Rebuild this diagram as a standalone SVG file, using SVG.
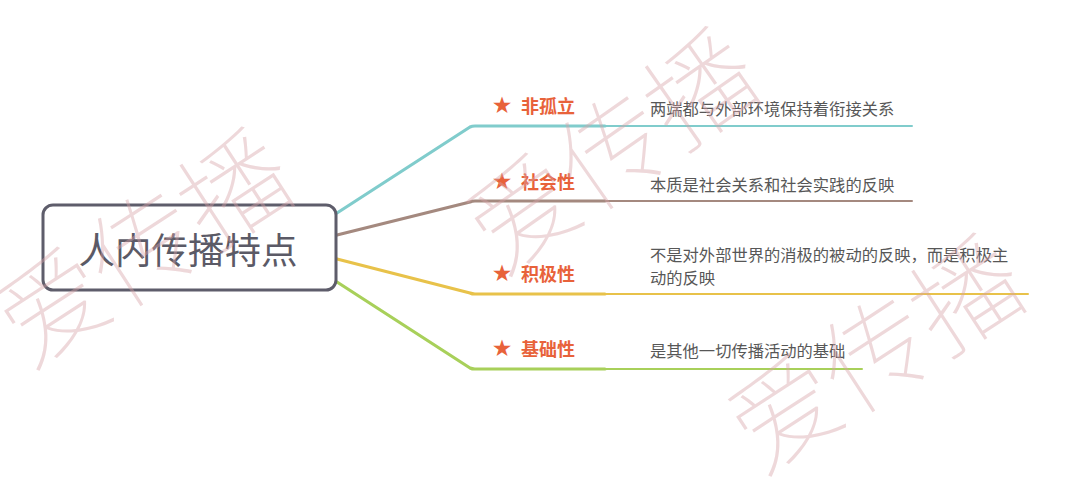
<svg xmlns="http://www.w3.org/2000/svg" width="1080" height="480" viewBox="0 0 1080 480">
<style>
.bg{fill:#ffffff}
.root-box{fill:#ffffff;stroke:#5e5d6b;stroke-width:3}
.root-text{font-family:"Noto Sans CJK SC","Noto Sans",sans-serif;font-size:36.5px;fill:#5b5a66;text-anchor:middle;dominant-baseline:central}
.lbl{font-family:"Noto Sans CJK SC","Noto Sans",sans-serif;font-size:18px;font-weight:bold;fill:#e8623a;dominant-baseline:central}
.star{font-family:"DejaVu Sans",sans-serif;font-size:23px;fill:#e8623a;text-anchor:middle;dominant-baseline:central}
.desc{font-family:"Noto Sans CJK SC","Noto Sans",sans-serif;font-size:16.3px;fill:#575757;dominant-baseline:central}
.wm{font-family:"Noto Sans CJK SC",serif;font-weight:100;font-size:108px;fill:#d8a3a8;opacity:0.42;text-anchor:middle;dominant-baseline:central}
.c{fill:none;stroke-linecap:round;stroke-linejoin:round}
</style>
<rect class="bg" x="0" y="0" width="1080" height="480"/>
<g id="connectors">
  <path class="c" d="M337,213 L470,127 Q472,126 475,126 L605,126" stroke="#80cccc" stroke-width="3.2"/>
  <path class="c" d="M605,126 L912,126" stroke="#80cccc" stroke-width="2"/>
  <path class="c" d="M337,235 L470,202 Q472,201 475,201 L605,201" stroke="#a4897f" stroke-width="3.2"/>
  <path class="c" d="M605,201 L912,201" stroke="#a4897f" stroke-width="2"/>
  <path class="c" d="M337,259 L470,293 Q472,294 475,294 L605,294" stroke="#e8c24a" stroke-width="3.2"/>
  <path class="c" d="M605,294 L1028,294" stroke="#e8c24a" stroke-width="2"/>
  <path class="c" d="M337,282 L470,368 Q472,369 475,369 L605,369" stroke="#a8d05a" stroke-width="3.2"/>
  <path class="c" d="M605,369 L862,369" stroke="#a8d05a" stroke-width="2"/>
</g>
<g id="root">
  <rect class="root-box" x="43" y="205" width="293" height="85" rx="10"/>
  <text class="root-text" x="188" y="248">人内传播特点</text>
</g>
<g id="node-feigu">
  <text class="star" x="502" y="105">★</text>
  <text class="lbl" x="521" y="105">非孤立</text>
  <text class="desc" x="650" y="108">两端都与外部环境保持着衔接关系</text>
</g>
<g id="node-shehui">
  <text class="star" x="502" y="181">★</text>
  <text class="lbl" x="521" y="181">社会性</text>
  <text class="desc" x="650" y="184">本质是社会关系和社会实践的反映</text>
</g>
<g id="node-jiji">
  <text class="star" x="502" y="273">★</text>
  <text class="lbl" x="521" y="273">积极性</text>
  <text class="desc" x="650" y="254">不是对外部世界的消极的被动的反映，而是积极主</text>
  <text class="desc" x="650" y="277">动的反映</text>
</g>
<g id="node-jichu">
  <text class="star" x="502" y="348">★</text>
  <text class="lbl" x="521" y="348">基础性</text>
  <text class="desc" x="650" y="350">是其他一切传播活动的基础</text>
</g>
<g id="watermarks">
  <text class="wm" x="140" y="242" transform="rotate(-33 140 242)">爱传播</text>
  <text class="wm" x="608" y="145" transform="rotate(-35 608 145)">爱传播</text>
  <text class="wm" x="872" y="348" transform="rotate(-33 872 348)">爱传播</text>
</g>
</svg>
